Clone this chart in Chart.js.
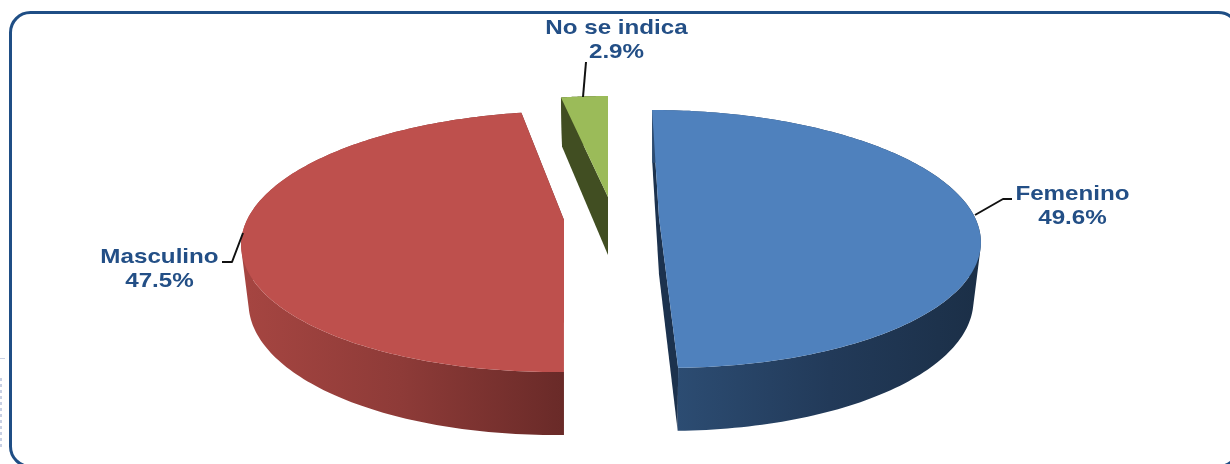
<!DOCTYPE html>
<html><head><meta charset="utf-8">
<style>html,body{margin:0;padding:0;background:#fff}canvas{display:block}</style>
<script src="https://cdn.jsdelivr.net/npm/chart.js@4"></script>
</head><body>
<canvas id="c" width="1230" height="464"></canvas>
<script>
const categories = ["Femenino", "Masculino", "No se indica"];
const shares = [49.6, 47.5, 2.9];
const topColors = ["#4F81BD", "#BE504D", "#9BBB59"];

// Projection of each exploded slice (apex, ellipse axes, shear, extrusion)
const P = 0.1656;
const views = [
  {ax:659, ay:217.6, ex:316, sx:8,  ry:125.4, d:57, sY:1.04, face:"#1C324E",
   grad:[[678,"#2C4C72"],[830,"#223A59"],[980,"#1B2F47"]]},
  {ax:564, ay:220,   ex:317, sx:-8, ry:126.8, d:57, sY:1.04, face:"#6B2B29",
   grad:[[248,"#A54541"],[400,"#8E3B38"],[565,"#692A28"]]},
  {ax:608, ay:197,   ex:302, sx:0,  ry:117.7, d:58, sY:1.09, face:"#414E22",
   grad:[[560,"#414E22"],[610,"#414E22"]]}
];
const labelSpots = [
  {x:1072.5, y:199.5, line:[[975,215],[1003,199],[1012,199]]},
  {x:159.5,  y:263,   line:[[243,233],[232,262],[222,262]]},
  {x:616.5,  y:33.5,  line:[[586,62],[583,97]]}
];
const TEXT = "#234F86";

function rimPoint(v,u,w){ // v: view, (u,w) unit coordinates in the pie's plane
  const k = 1 - P*w;
  return [v.ax + (v.ex*u + v.sx*w)/k, v.ay + v.ry*w/k];
}
const SX = 0.977;
function lowPoint(v,p){ return [v.ax + SX*(p[0]-v.ax), v.ay + v.d + v.sY*(p[1]-v.ay)]; }

const pie3d = {
  id:"pie3d",
  beforeDraw(chart){
    const c = chart.ctx;
    c.save();
    c.fillStyle="#fff"; c.fillRect(0,0,1230,464);
    c.strokeStyle="#C8D0E4"; c.lineWidth=1;
    c.beginPath(); c.moveTo(0,358.5); c.lineTo(5,358.5); c.stroke();
    c.setLineDash([3,3]); c.lineWidth=2;
    c.beginPath(); c.moveTo(1,378); c.lineTo(1,450); c.stroke();
    c.setLineDash([]);
    c.strokeStyle="#1F4E85"; c.lineWidth=3;
    c.beginPath(); c.roundRect(10.5,12.5,1228,454,20); c.stroke();
    c.restore();
  },
  beforeDatasetsDraw(chart){
    const c = chart.ctx, arcs = chart.getDatasetMeta(0).data;
    [2,1,0].forEach(i=>{
      const a = arcs[i], v = views[i];
      const {startAngle:s,endAngle:e} = a.getProps(["startAngle","endAngle"]);
      const rim = [];
      const n = 160;
      for(let k=0;k<=n;k++){
        const t = s+(e-s)*k/n;
        rim.push(rimPoint(v,Math.cos(t),Math.sin(t)));
      }
      const apex = [v.ax,v.ay], apexLow = lowPoint(v,apex);
      const poly = pts=>{c.beginPath();pts.forEach((p,j)=>j?c.lineTo(p[0],p[1]):c.moveTo(p[0],p[1]));c.closePath();};
      // cut faces
      c.fillStyle = v.face;
      poly([rim[0],apex,apexLow,lowPoint(v,rim[0])]); c.fill();
      poly([rim[n],apex,apexLow,lowPoint(v,rim[n])]); c.fill();
      // outer wall: swept strip, every cell wound the same way
      const g = c.createLinearGradient(v.grad[0][0],0,v.grad[v.grad.length-1][0],0);
      const span = v.grad[v.grad.length-1][0]-v.grad[0][0];
      v.grad.forEach(st=>g.addColorStop((st[0]-v.grad[0][0])/span,st[1]));
      c.fillStyle = g;
      c.beginPath();
      for(let k=0;k<n;k++){
        let q=[rim[k],rim[k+1],lowPoint(v,rim[k+1]),lowPoint(v,rim[k])];
        let area=0;
        q.forEach((p,j)=>{const r=q[(j+1)%4];area+=p[0]*r[1]-r[0]*p[1];});
        if(area<0) q.reverse();
        q.forEach((p,j)=>j?c.lineTo(p[0],p[1]):c.moveTo(p[0],p[1]));
        c.closePath();
      }
      c.fill();
      // top face
      c.fillStyle = a.options.backgroundColor;
      poly([apex].concat(rim)); c.fill();
    });
    // leader lines and labels
    c.save();
    c.strokeStyle="#111"; c.lineWidth=2; c.lineJoin="round";
    labelSpots.forEach(l=>{
      c.beginPath(); l.line.forEach((p,j)=>j?c.lineTo(p[0],p[1]):c.moveTo(p[0],p[1])); c.stroke();
    });
    c.fillStyle=TEXT; c.textAlign="center"; c.textBaseline="alphabetic";
    c.font='bold 20.5px "Liberation Sans", Arial, sans-serif';
    const stretched=(txt,x,y)=>{c.save();c.translate(x,y);c.scale(1.18,1);c.fillText(txt,0,0);c.restore();};
    categories.forEach((name,i)=>{
      const l = labelSpots[i];
      stretched(name,l.x,l.y);
      stretched(shares[i].toFixed(1)+"%",l.x,l.y+24);
    });
    c.restore();
    return false;
  }
};

new Chart(document.getElementById("c"),{
  type:"pie",
  data:{labels:categories,datasets:[{data:shares,backgroundColor:topColors,borderWidth:0}]},
  options:{
    responsive:false,animation:false,rotation:0,
    layout:{padding:0},
    plugins:{legend:{display:false},tooltip:{enabled:false}}
  },
  plugins:[pie3d]
});
</script>
</body></html>
